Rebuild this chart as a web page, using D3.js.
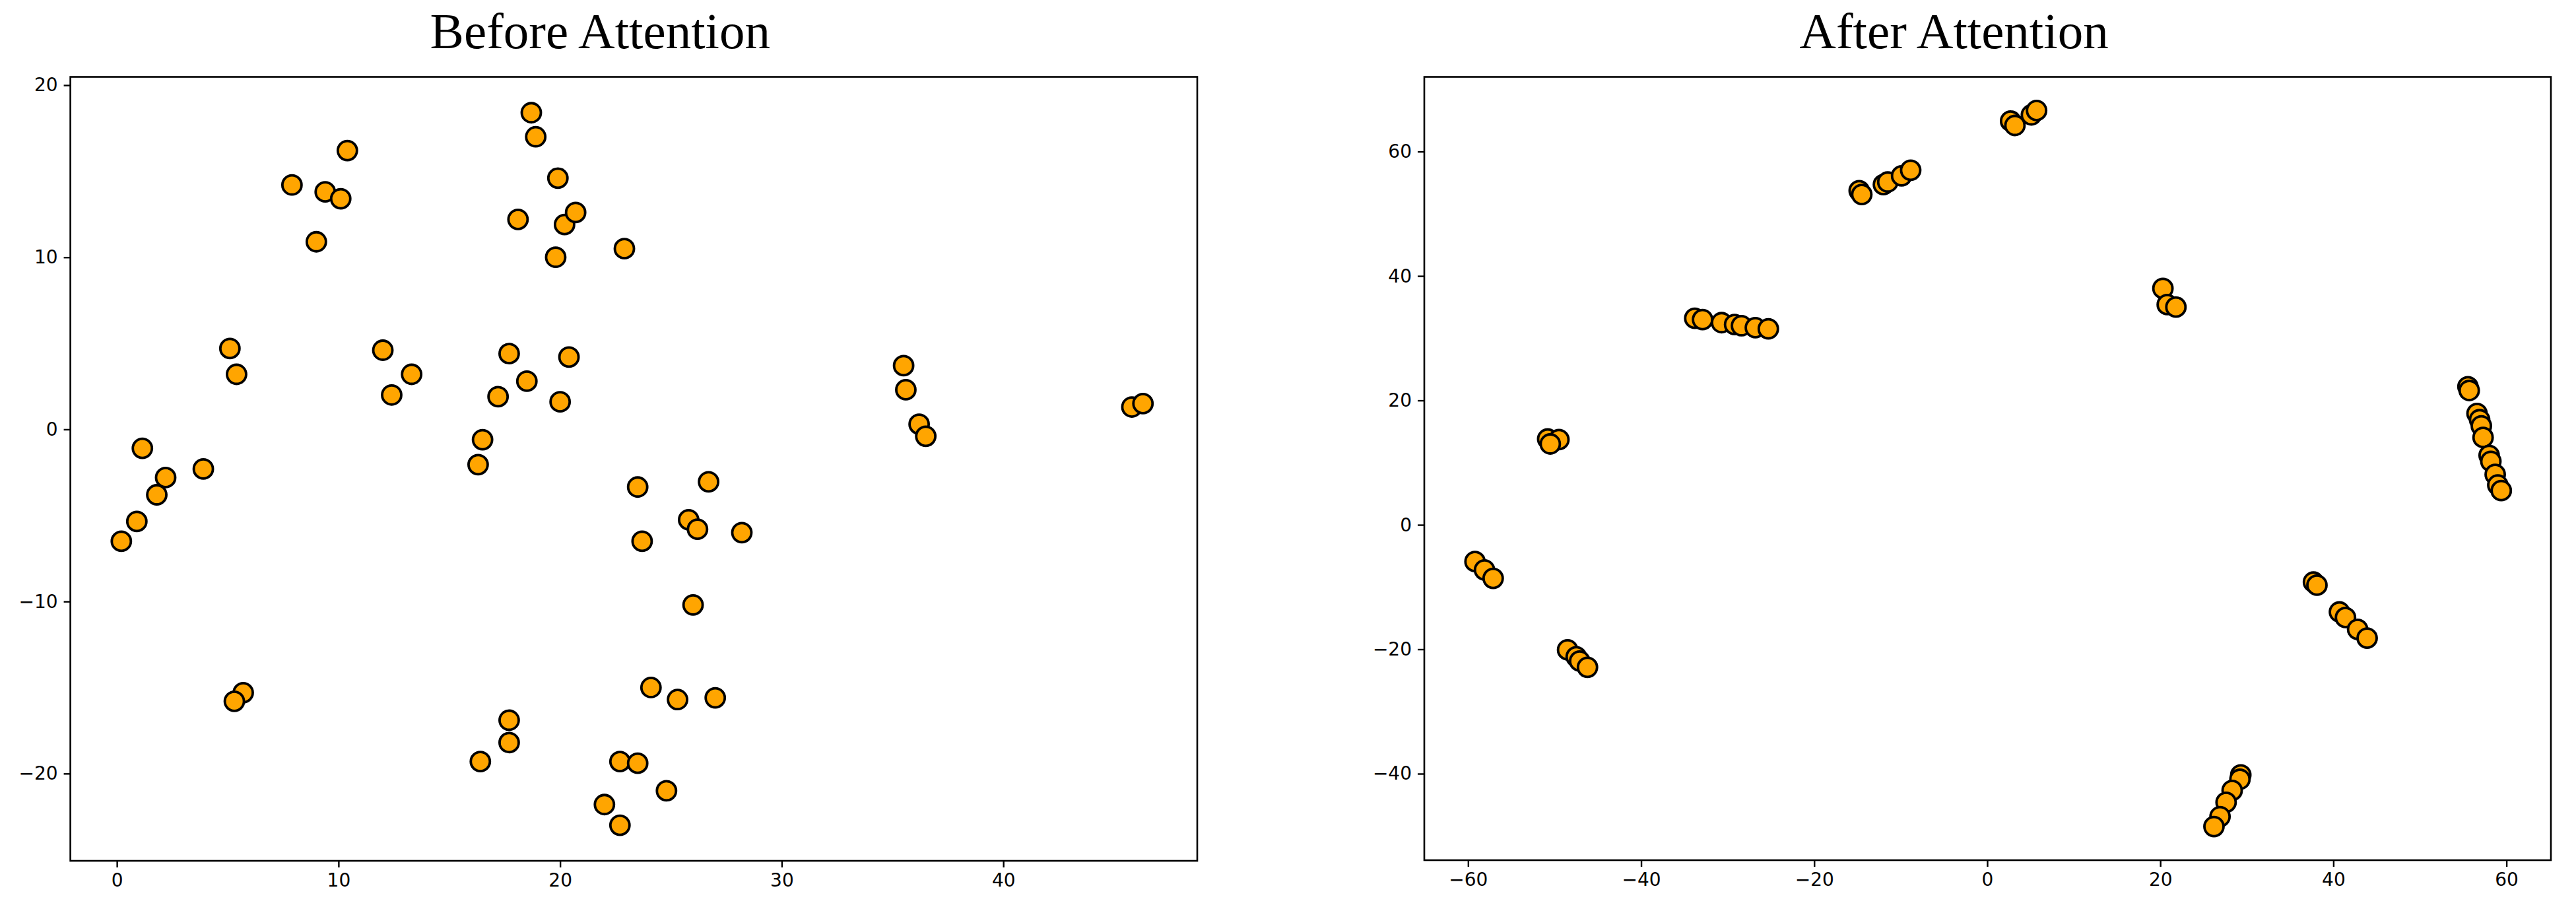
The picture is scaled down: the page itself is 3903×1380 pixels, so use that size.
<!DOCTYPE html>
<html>
<head>
<meta charset="utf-8">
<script src="https://cdn.jsdelivr.net/npm/d3@7"></script>
<style>
  html, body { margin: 0; padding: 0; background: #fff; }
  svg { display: block; }
</style>
</head>
<body>
<svg id="chart" width="3903" height="1380"></svg>
<script>
// before attention (t-SNE style embedding)
var beforeX = [18.7, 18.9, 10.4, 7.9, 9.4, 10.1, 19.9, 18.1, 20.2, 20.7, 9.0, 19.8, 22.9,
  5.1, 5.4, 12.0, 13.3, 12.4, 17.7, 18.5, 17.2, 20.4, 20.0, 35.5, 35.6, 36.2, 36.5,
  45.8, 46.3, 1.15, 16.5, 3.9, 16.3, 2.2, 1.8, 0.9, 0.2, 23.5, 26.7, 25.8, 26.2, 28.2,
  23.7, 26.0, 5.7, 5.3, 24.1, 25.3, 27.0, 17.7, 17.7, 16.4, 22.7, 23.5, 24.8, 22.0, 22.7];
var beforeY = [18.4, 17.0, 16.2, 14.2, 13.8, 13.4, 14.6, 12.2, 11.9, 12.6, 10.9, 10.0, 10.5,
  4.7, 3.2, 4.6, 3.2, 2.0, 4.4, 2.8, 1.9, 4.2, 1.6, 3.7, 2.3, 0.3, -0.4,
  1.3, 1.5, -1.1, -0.6, -2.3, -2.05, -2.8, -3.8, -5.35, -6.5, -3.35, -3.05, -5.25, -5.8, -6.0,
  -6.5, -10.2, -15.3, -15.8, -15.0, -15.7, -15.6, -16.9, -18.2, -19.3, -19.3, -19.4, -21.0, -21.8, -23.0];

// after attention
var afterX = [-50.8, -49.5, -50.5, -59.2, -58.1, -57.1, -48.5, -47.5, -47.1, -46.2,
  -33.8, -32.9, -30.7, -29.2, -28.4, -26.8, -25.3,
  -14.8, -14.5, -12.0, -11.5, -9.9, -8.85,
  2.7, 3.2, 5.1, 5.7,
  20.3, 20.8, 21.8,
  55.55, 55.7, 56.6, 56.9, 57.1, 57.3, 58.0, 58.2, 58.7, 59.0, 59.4,
  37.7, 38.1, 40.7, 41.4, 42.8, 43.9,
  29.3, 29.2, 28.3, 27.6, 26.9, 26.2];
var afterY = [13.8, 13.7, 13.0, -5.9, -7.25, -8.6, -20.1, -21.2, -21.9, -22.9,
  33.2, 33.0, 32.5, 32.2, 32.0, 31.7, 31.5,
  53.7, 53.1, 54.7, 55.1, 56.1, 57.0,
  64.9, 64.2, 65.9, 66.6,
  38.0, 35.4, 35.0,
  22.2, 21.6, 17.9, 16.9, 15.9, 14.05, 11.15, 10.2, 8.1, 6.4, 5.5,
  -9.2, -9.7, -14.0, -14.9, -16.8, -18.2,
  -40.2, -40.9, -42.7, -44.6, -46.9, -48.5];

var beforeXTicks = [0, 10, 20, 30, 40];
var beforeYTicks = [-20, -10, 0, 10, 20];
var afterXTicks = [-60, -40, -20, 0, 20, 40, 60];
var afterYTicks = [-40, -20, 0, 20, 40, 60];

var beforeXDomain = [-2.1, 48.75];
var beforeYDomain = [-25.07, 20.48];
var afterXDomain = [-65.06, 65.14];
var afterYDomain = [-53.9, 72.0];

var svg = d3.select("#chart");

function drawPanel(opts) {
  var g = svg.append("g");
  var x = d3.scaleLinear().domain(opts.xDomain).range([opts.left, opts.right]);
  var y = d3.scaleLinear().domain(opts.yDomain).range([opts.bottom, opts.top]);

  // title (sits a little left of the axes centre in the original)
  g.append("text")
    .attr("x", (opts.left + opts.right) / 2 - 51)
    .attr("y", 73)
    .attr("text-anchor", "middle")
    .attr("font-family", "'Liberation Serif', 'Times New Roman', serif")
    .attr("font-size", 77)
    .attr("fill", "#000")
    .text(opts.title);

  // points
  var pts = opts.xs.map(function (d, i) { return [d, opts.ys[i]]; });
  g.append("g").selectAll("circle")
    .data(pts)
    .enter().append("circle")
    .attr("cx", function (d) { return x(d[0]); })
    .attr("cy", function (d) { return y(d[1]); })
    .attr("r", 14.5)
    .attr("fill", "#ffa500")
    .attr("stroke", "#000")
    .attr("stroke-width", 3.8);

  // axes
  var xAxis = g.append("g")
    .attr("transform", "translate(0," + opts.bottom + ")")
    .call(d3.axisBottom(x).tickValues(opts.xTicks).tickSize(10).tickPadding(9).tickSizeOuter(0));
  var yAxis = g.append("g")
    .attr("transform", "translate(" + opts.left + ",0)")
    .call(d3.axisLeft(y).tickValues(opts.yTicks).tickSize(10).tickPadding(9).tickSizeOuter(0));

  [xAxis, yAxis].forEach(function (a) {
    a.select(".domain").remove();
    a.selectAll(".tick line").attr("stroke", "#000").attr("stroke-width", 2.4);
    a.selectAll(".tick text")
      .attr("font-family", "'DejaVu Sans', sans-serif")
      .attr("font-size", 28)
      .attr("fill", "#000");
  });

  // frame
  g.append("rect")
    .attr("x", opts.left)
    .attr("y", opts.top)
    .attr("width", opts.right - opts.left)
    .attr("height", opts.bottom - opts.top)
    .attr("fill", "none")
    .attr("stroke", "#000")
    .attr("stroke-width", 2.6);
}

drawPanel({
  title: "Before Attention",
  xs: beforeX, ys: beforeY,
  xDomain: beforeXDomain, yDomain: beforeYDomain,
  xTicks: beforeXTicks, yTicks: beforeYTicks,
  left: 106.6, right: 1814, top: 116.5, bottom: 1304
});

drawPanel({
  title: "After Attention",
  xs: afterX, ys: afterY,
  xDomain: afterXDomain, yDomain: afterYDomain,
  xTicks: afterXTicks, yTicks: afterYTicks,
  left: 2158, right: 3865, top: 116.5, bottom: 1303
});
</script>
</body>
</html>
